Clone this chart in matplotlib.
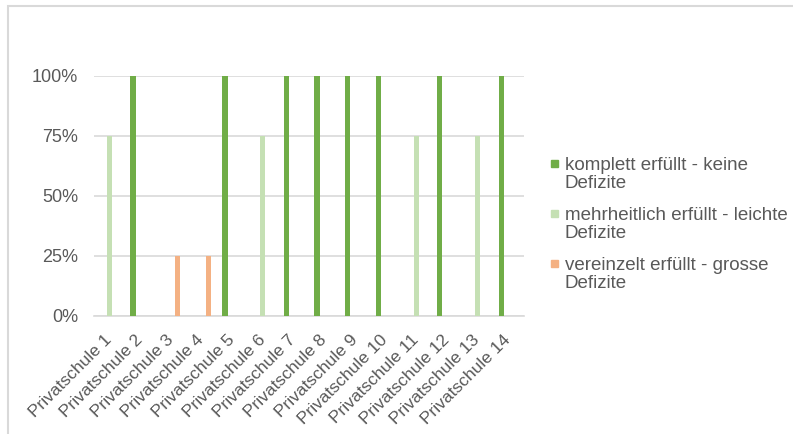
import matplotlib.pyplot as plt
import numpy as np
from matplotlib.patches import Rectangle

plt.rcParams['font.family'] = ['Liberation Sans', 'DejaVu Sans']

# data
schulen = ["Privatschule %d" % i for i in range(1, 15)]
komplett = [0, 1, 0, 0, 1, 0, 1, 1, 1, 1, 0, 1, 0, 1]
mehrheitlich = [0.75, 0, 0, 0, 0, 0.75, 0, 0, 0, 0, 0.75, 0, 0.75, 0]
vereinzelt = [0, 0, 0.25, 0.25, 0, 0, 0, 0, 0, 0, 0, 0, 0, 0]
serien = ["komplett erfüllt - keine\nDefizite",
          "mehrheitlich erfüllt - leichte\nDefizite",
          "vereinzelt erfüllt - grosse\nDefizite"]
farben = ["#70AD47", "#C5E0B4", "#F4B183"]
yticks = [0, 0.25, 0.5, 0.75, 1.0]
ylabels = ["0%", "25%", "50%", "75%", "100%"]

W, H = 793, 434
fig = plt.figure(figsize=(W / 100, H / 100), dpi=100)
ax = fig.add_axes([94 / W, 1 - 315.5 / H, 429.5 / W, 240 / H])

grau = "#595959"
x = np.arange(len(schulen))
breite = 0.17
versatz = [-0.228, 0, 0.228]
for werte, farbe, off in zip([komplett, mehrheitlich, vereinzelt], farben, versatz):
    ax.bar(x + off, werte, width=breite, color=farbe, zorder=3)

ax.set_xlim(-0.5, len(schulen) - 0.5)
ax.set_ylim(0, 1)
ax.set_yticks(yticks)
ax.set_yticklabels(ylabels, fontsize=13, color=grau)
ax.set_xticks(x)
ax.set_xticklabels(schulen, fontsize=12.5, color=grau, rotation=45,
                   ha="right", va="center", rotation_mode="anchor")
ax.tick_params(axis="both", length=0)
ax.tick_params(axis="y", pad=11.5)
ax.tick_params(axis="x", pad=16)
ax.grid(axis="y", color="#D9D9D9", linewidth=1.2, zorder=0)
for s in ["top", "right", "left"]:
    ax.spines[s].set_visible(False)
ax.spines["bottom"].set_color("#D9D9D9")
ax.spines["bottom"].set_linewidth(1.2)

# legend
for i, (name, farbe) in enumerate(zip(serien, farben)):
    yc = 163 + i * 50
    fig.add_artist(Rectangle((550.5 / W, 1 - (yc + 3.5) / H), 7 / W, 7 / H,
                             transform=fig.transFigure, color=farbe))
    fig.text(565 / W, 1 - (yc - 6) / H, name, fontsize=13.5, color=grau,
             va="top", ha="left", linespacing=1.1)

# chart border
fig.add_artist(Rectangle((8 / W, -0.05), 1.1, 1 - 6 / H + 0.05,
                         transform=fig.transFigure, fill=False,
                         edgecolor="#D9D9D9", linewidth=1.5))

fig.savefig("out.png", dpi=100)
